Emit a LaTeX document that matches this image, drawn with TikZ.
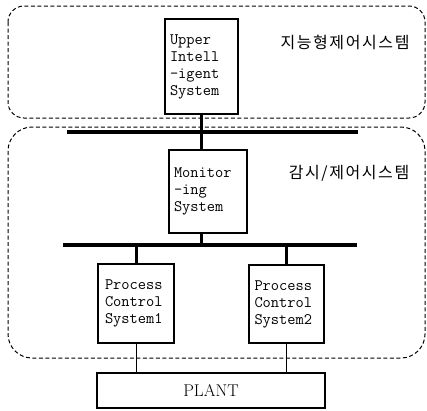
\documentclass[tikz,border=0pt]{standalone}
\usepackage{fontspec}
\newfontfamily\kofont[LetterSpace=10]{Noto Sans CJK KR}
\usetikzlibrary{calc, positioning}

\tikzset{
  sysbox/.style={draw, line width=1.1pt, inner xsep=5pt, align=left,
    font=\ttfamily\fontsize{16}{17}\selectfont},
  bus/.style={line width=3.8pt},
  link/.style={line width=3pt},
  wire/.style={line width=1pt},
  region/.style={dashed, line width=1pt, dash pattern=on 4pt off 2.5pt},
  tag/.style={font=\kofont\fontsize{16}{17}\selectfont}
}

\begin{document}
\begin{tikzpicture}[x=1pt, y=-1pt]
\useasboundingbox (0,0) rectangle (427,410);

\draw[region, rounded corners=16pt] (8,6) rectangle (425,118);
\draw[region, rounded corners=24pt] (8,127) rectangle (425,358);

\node[sysbox, minimum width=73pt, minimum height=95pt, text width=63pt] (upper) at (201.5,66.5)
  {Upper\\Intell\\-igent\\System};
\node[sysbox, minimum width=78pt, minimum height=83pt, text width=68pt] (mon) at (208,191.5)
  {Monitor\\-ing\\System};
\node[sysbox, minimum width=76pt, minimum height=79pt, text width=62pt] (pc1) at (136,303.5)
  {Process\\Control\\System1};
\node[sysbox, minimum width=75pt, minimum height=78pt, text width=64pt] (pc2) at (286.5,304)
  {Process\\Control\\System2};
\node[draw, line width=1.1pt, minimum width=228pt, minimum height=35pt,
  font=\fontsize{17}{19}\selectfont] (plant) at (211,390.5) {PLANT};

\node[tag] (lbltop) at (345,42) {지능형제어시스템};
\node[tag] (lblmid) at (349,173) {감시/제어시스템};

\coordinate (b1w) at (67,132);
\coordinate (b1e) at (358,132);
\coordinate (b2w) at (63,245);
\coordinate (b2e) at (357,245);

\draw[bus] (b1w) -- (b1e);
\draw[bus] (b2w) -- (b2e);

\draw[link] (upper.south) -- (upper.south |- mon.north);
\draw[link] (mon.south -| upper.south) -- (upper.south |- b2w);
\draw[link] (pc1.north) -- (pc1.north |- b2w);
\draw[link] (pc2.north) -- (pc2.north |- b2w);

\draw[wire] (pc1.south) -- (pc1.south |- plant.north);
\draw[wire] (pc2.south) -- (pc2.south |- plant.north);
\end{tikzpicture}
\end{document}
